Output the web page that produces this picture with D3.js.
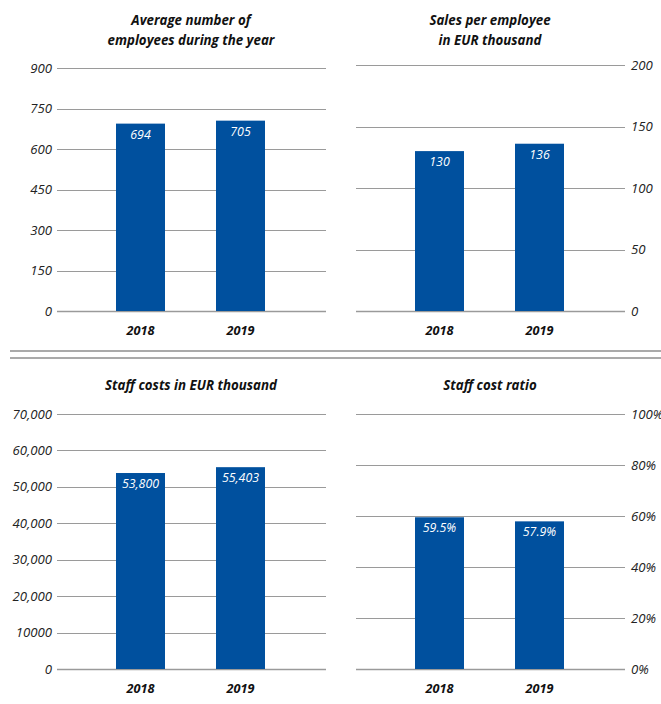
<!DOCTYPE html>
<html lang="en">
<head>
  <meta charset="UTF-8">
  <title>Employees</title>
  <script src="https://d3js.org/d3.v7.min.js"></script>
  <style>
    body { margin: 0; padding: 0; background: #fff; }
    svg { display: block; font-family: "Open Sans", Arial, sans-serif; }
    .tick-label { font-size: 13.2px; font-style: italic; fill: #222; }
    .year { font-size: 12.7px; font-style: italic; font-weight: bold; fill: #111; }
    .title { font-size: 13.3px; font-style: italic; font-weight: bold; fill: #111; }
    .value { font-size: 12.4px; font-style: italic; fill: #fff; }
  </style>
</head>
<body>
  <div id="chart"></div>
  <script>
    const years = ["2018", "2019"];

    const employees = [694, 705];
    const employeeTicks = [0, 150, 300, 450, 600, 750, 900];
    const employeeTickLabels = ["0", "150", "300", "450", "600", "750", "900"];
    const employeeValueLabels = ["694", "705"];

    const salesPerEmployee = [130, 136];
    const salesTicks = [0, 50, 100, 150, 200];
    const salesTickLabels = ["0", "50", "100", "150", "200"];
    const salesValueLabels = ["130", "136"];

    const staffCosts = [53800, 55403];
    const staffTicks = [0, 10000, 20000, 30000, 40000, 50000, 60000, 70000];
    const staffTickLabels = ["0", "10000", "20,000", "30,000", "40,000", "50,000", "60,000", "70,000"];
    const staffValueLabels = ["53,800", "55,403"];

    const costRatio = [59.5, 57.9];
    const ratioTicks = [0, 20, 40, 60, 80, 100];
    const ratioTickLabels = ["0%", "20%", "40%", "60%", "80%", "100%"];
    const ratioValueLabels = ["59.5%", "57.9%"];

    const width = 661, height = 704;
    const barColor = "#00509e";

    const svg = d3.select("#chart").append("svg")
      .attr("width", width)
      .attr("height", height);

    function drawPanel(opts) {
      const g = svg.append("g");
      const y = d3.scaleLinear()
        .domain([0, opts.ticks[opts.ticks.length - 1]])
        .range([opts.bottom, opts.top]);
      const x = d3.scaleBand()
        .domain(years)
        .range([opts.bandStart, opts.bandStart + 200])
        .paddingInner(0.51)
        .paddingOuter(0.255);

      // gridlines
      g.selectAll(".grid")
        .data(opts.ticks)
        .enter().append("line")
        .attr("x1", opts.gridX1)
        .attr("x2", opts.gridX2)
        .attr("y1", d => Math.round(y(d)) + 0.5)
        .attr("y2", d => Math.round(y(d)) + 0.5)
        .attr("stroke", "#9a9a9a")
        .attr("stroke-width", d => d === 0 ? 1.5 : 1);

      // tick labels
      g.selectAll(".tick-label")
        .data(opts.ticks)
        .enter().append("text")
        .attr("class", "tick-label")
        .attr("x", opts.labelX)
        .attr("y", d => y(d))
        .attr("dy", "0.35em")
        .attr("text-anchor", opts.labelAnchor)
        .text((d, i) => opts.tickLabels[i]);

      // bars
      g.selectAll(".bar")
        .data(opts.values)
        .enter().append("rect")
        .attr("x", (d, i) => x(years[i]))
        .attr("y", d => y(d))
        .attr("width", x.bandwidth())
        .attr("height", d => opts.bottom - y(d))
        .attr("fill", barColor);

      // value labels
      g.selectAll(".value")
        .data(opts.values)
        .enter().append("text")
        .attr("class", "value")
        .attr("x", (d, i) => x(years[i]) + x.bandwidth() / 2)
        .attr("y", d => y(d) + 15)
        .attr("text-anchor", "middle")
        .text((d, i) => opts.valueLabels[i]);

      // years
      g.selectAll(".year")
        .data(years)
        .enter().append("text")
        .attr("class", "year")
        .attr("x", d => x(d) + x.bandwidth() / 2)
        .attr("y", opts.bottom + 24)
        .attr("text-anchor", "middle")
        .text(d => d);

      // title
      opts.title.forEach((line, i) => {
        g.append("text")
          .attr("class", "title")
          .attr("x", opts.titleX)
          .attr("y", opts.titleY + i * 20)
          .attr("text-anchor", "middle")
          .text(line);
      });
    }

    drawPanel({
      values: employees, ticks: employeeTicks, tickLabels: employeeTickLabels, valueLabels: employeeValueLabels,
      top: 68, bottom: 311, bandStart: 90.5, gridX1: 57, gridX2: 326, labelX: 52, labelAnchor: "end",
      title: ["Average number of", "employees during the year"], titleX: 191, titleY: 25
    });

    drawPanel({
      values: salesPerEmployee, ticks: salesTicks, tickLabels: salesTickLabels, valueLabels: salesValueLabels,
      top: 65, bottom: 311, bandStart: 389.5, gridX1: 356, gridX2: 625, labelX: 631, labelAnchor: "start",
      title: ["Sales per employee", "in EUR thousand"], titleX: 490, titleY: 25
    });

    drawPanel({
      values: staffCosts, ticks: staffTicks, tickLabels: staffTickLabels, valueLabels: staffValueLabels,
      top: 414, bottom: 669, bandStart: 90.5, gridX1: 57, gridX2: 326, labelX: 52, labelAnchor: "end",
      title: ["Staff costs in EUR thousand"], titleX: 191, titleY: 390
    });

    drawPanel({
      values: costRatio, ticks: ratioTicks, tickLabels: ratioTickLabels, valueLabels: ratioValueLabels,
      top: 414, bottom: 669, bandStart: 389.5, gridX1: 356, gridX2: 625, labelX: 631, labelAnchor: "start",
      title: ["Staff cost ratio"], titleX: 490, titleY: 390
    });

    // double separator between rows
    svg.selectAll(".sep")
      .data([351, 358])
      .enter().append("line")
      .attr("x1", 10)
      .attr("x2", width)
      .attr("y1", d => d)
      .attr("y2", d => d)
      .attr("stroke", "#aaaaaa")
      .attr("stroke-width", 2);
  </script>
</body>
</html>
